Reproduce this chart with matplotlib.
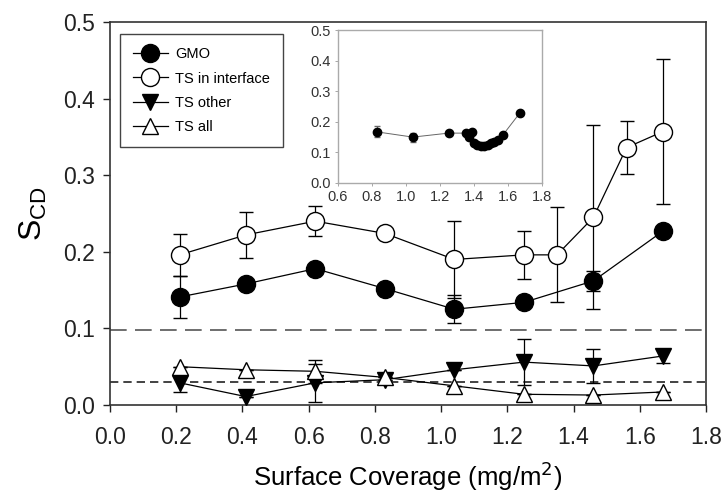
import matplotlib
matplotlib.use("Agg")
from matplotlib import pyplot as plt
from matplotlib.lines import Line2D

plt.rcParams['font.family'] = ['Liberation Sans', 'DejaVu Sans']

# main data
x_gmo = [0.21, 0.41, 0.62, 0.83, 1.04, 1.25, 1.46, 1.67]
gmo = [0.141, 0.158, 0.178, 0.152, 0.125, 0.134, 0.162, 0.227]
gmo_err = [0.028, 0.0, 0.0, 0.0, 0.018, 0.0, 0.013, 0.0]

x_int = [0.21, 0.41, 0.62, 0.83, 1.04, 1.25, 1.35, 1.46, 1.56, 1.67]
ts_int = [0.196, 0.222, 0.240, 0.224, 0.190, 0.196, 0.196, 0.245, 0.336, 0.357]
ts_int_err = [0.027, 0.030, 0.020, 0.0, 0.050, 0.031, 0.062, 0.120, 0.035, 0.095]

x_ts = [0.21, 0.41, 0.62, 0.83, 1.04, 1.25, 1.46, 1.67]
ts_other = [0.029, 0.011, 0.029, 0.033, 0.046, 0.056, 0.051, 0.064]
ts_other_err = [0.012, 0.0, 0.025, 0.0, 0.0, 0.030, 0.022, 0.009]
ts_all = [0.050, 0.046, 0.044, 0.036, 0.025, 0.014, 0.013, 0.017]
ts_all_err = [0.0, 0.0, 0.015, 0.0, 0.0, 0.0, 0.0, 0.0]

line_long = 0.098
line_short = 0.030

# inset data
x_in = [0.83, 1.04, 1.25, 1.35, 1.37, 1.39, 1.40, 1.42, 1.44, 1.46, 1.48, 1.50, 1.52, 1.54, 1.57, 1.67]
y_in = [0.167, 0.150, 0.163, 0.163, 0.150, 0.167, 0.131, 0.125, 0.120, 0.120, 0.125, 0.130, 0.135, 0.140, 0.157, 0.229]
y_in_err = [0.018, 0.015, 0, 0, 0, 0, 0, 0, 0, 0, 0, 0, 0, 0, 0, 0]

fig = plt.figure(figsize=(7.25, 4.95), dpi=100)
ax = fig.add_axes([110/725, 90/495, 596/725, 383/495])

ax.axhline(line_long, color='#555555', lw=1.2, dashes=(10, 5))
ax.axhline(line_short, color='#222222', lw=1.2, dashes=(5, 3))

ax.errorbar(x_int, ts_int, yerr=ts_int_err, fmt='o-', color='black', mfc='white', mec='black',
            ms=13, lw=0.9, capsize=5, elinewidth=0.9, zorder=3)
ax.errorbar(x_gmo, gmo, yerr=gmo_err, fmt='o-', color='black', mfc='black',
            ms=13, lw=0.9, capsize=5, elinewidth=0.9, zorder=4)
ax.errorbar(x_ts, ts_other, yerr=ts_other_err, fmt='v-', color='black', mfc='black',
            ms=12, lw=0.9, capsize=5, elinewidth=0.9, zorder=4)
ax.errorbar(x_ts, ts_all, yerr=ts_all_err, fmt='^-', color='black', mfc='white', mec='black',
            ms=12, lw=0.9, capsize=5, elinewidth=0.9, zorder=5)

ax.set_xlim(0, 1.8)
ax.set_ylim(0, 0.5)
ax.set_xticks([0.0, 0.2, 0.4, 0.6, 0.8, 1.0, 1.2, 1.4, 1.6, 1.8])
ax.set_yticks([0.0, 0.1, 0.2, 0.3, 0.4, 0.5])
ax.set_xticklabels(['0.0', '0.2', '0.4', '0.6', '0.8', '1.0', '1.2', '1.4', '1.6', '1.8'])
ax.set_yticklabels(['0.0', '0.1', '0.2', '0.3', '0.4', '0.5'])
ax.tick_params(labelsize=16.5, direction='out', length=5, width=1, colors='#222222', pad=6)
ax.tick_params(axis='x', pad=10)
for s in ax.spines.values():
    s.set_linewidth(1.2)
    s.set_color('#333333')
ax.set_xlabel('Surface Coverage (mg/m$^2$)', fontsize=18.5, labelpad=8)
ax.set_ylabel(r'$\mathregular{S_{CD}}$', fontsize=23, labelpad=10)

handles = [
    Line2D([], [], color='black', lw=0.9, marker='o', ms=13, mfc='black', mec='black'),
    Line2D([], [], color='black', lw=0.9, marker='o', ms=13, mfc='white', mec='black'),
    Line2D([], [], color='black', lw=0.9, marker='v', ms=12, mfc='black', mec='black'),
    Line2D([], [], color='black', lw=0.9, marker='^', ms=12, mfc='white', mec='black'),
]
labels = ['GMO', 'TS in interface', 'TS other', 'TS all']
leg = ax.legend(handles, labels, loc='upper left',
                bbox_to_anchor=(0.004, 0.987), fontsize=10.5, fancybox=False,
                edgecolor='#444444', framealpha=1, borderpad=0.9, handlelength=2.4,
                labelspacing=0.7, handletextpad=0.5)
leg.get_frame().set_linewidth(1.0)

# inset
axi = fig.add_axes([338/725, (495-183)/495, 204/725, 153/495])
axi.errorbar(x_in, y_in, yerr=y_in_err, fmt='o-', color='#666666', mfc='black', mec='black',
             ms=6, lw=0.7, capsize=2, elinewidth=0.7)
axi.set_xlim(0.6, 1.8)
axi.set_ylim(0, 0.5)
axi.set_xticks([0.6, 0.8, 1.0, 1.2, 1.4, 1.6, 1.8])
axi.set_yticks([0.0, 0.1, 0.2, 0.3, 0.4, 0.5])
axi.set_xticklabels(['0.6', '0.8', '1.0', '1.2', '1.4', '1.6', '1.8'])
axi.set_yticklabels(['0.0', '0.1', '0.2', '0.3', '0.4', '0.5'])
axi.tick_params(labelsize=10.5, direction='out', length=2, width=0.6, colors='#999999',
                labelcolor='#333333', pad=3)
for s in axi.spines.values():
    s.set_color('#aaaaaa')
    s.set_linewidth(1.0)

fig.savefig('out.png', dpi=100)
